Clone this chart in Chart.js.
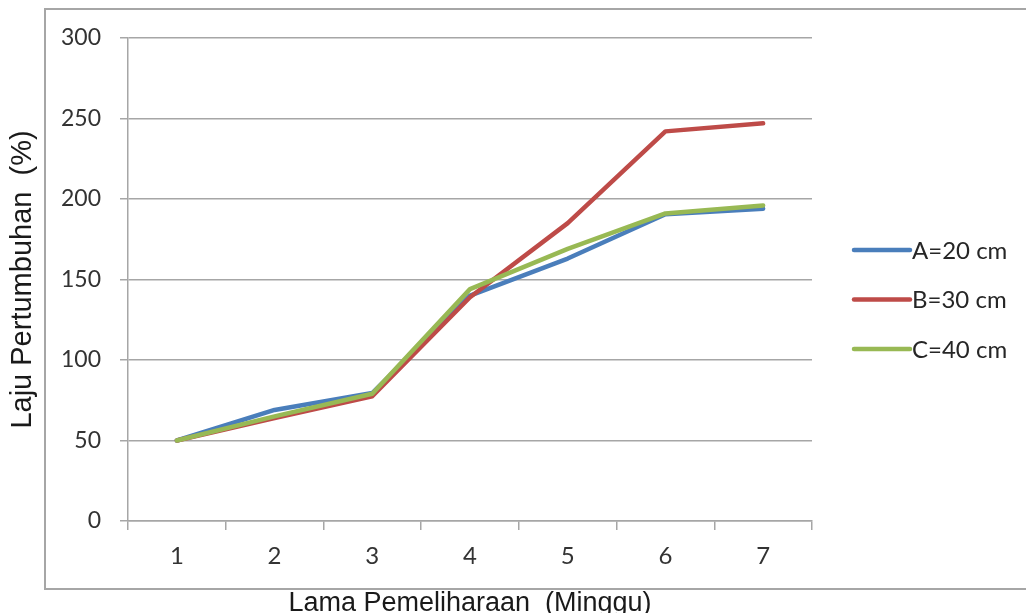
<!DOCTYPE html>
<html>
<head>
<meta charset="utf-8">
<title>Laju Pertumbuhan</title>
<script src="https://cdn.jsdelivr.net/npm/chart.js@4"></script>
<style>
  html, body { margin: 0; padding: 0; background: #ffffff; }
  #wrap { width: 1026px; height: 613px; position: relative; }
</style>
</head>
<body>
<div id="wrap"><canvas id="chart" width="1026" height="613"></canvas></div>
<script>
// Weeks of rearing (x categories)
const weeks = ['1', '2', '3', '4', '5', '6', '7'];

// Growth rate (%) per planting distance
const seriesA = [50, 69, 79.5, 140, 163, 190.5, 194];
const seriesB = [50, 64, 77.5, 139, 185, 242, 247];
const seriesC = [50, 65, 79, 144, 169, 191, 196];

const seriesNames = ['A=20 cm', 'B=30 cm', 'C=40 cm'];
const seriesColors = ['#4a7ebb', '#be4b48', '#98b954'];

// Y axis range and step
const yMin = 0, yMax = 300, yStep = 50;

const xTitle = 'Lama Pemeliharaan  (Minggu)';
const yTitle = 'Laju Pertumbuhan  (%)';

// Frame around the whole chart, drawn beneath everything else
const framePlugin = {
  id: 'frame',
  beforeDraw(chart) {
    const ctx = chart.ctx;
    ctx.save();
    ctx.fillStyle = '#ffffff';
    ctx.fillRect(0, 0, chart.width, chart.height);
    ctx.strokeStyle = '#a6a6a6';
    ctx.lineWidth = 2;
    ctx.strokeRect(45, 9, 1010, 580);
    ctx.restore();
  }
};

// Legend on the right: short line sample followed by the series name
const sideLegend = {
  id: 'sideLegend',
  afterDraw(chart) {
    const ctx = chart.ctx;
    ctx.save();
    ctx.font = '24px Lato, "Open Sans", sans-serif';
    ctx.textBaseline = 'middle';
    ctx.textAlign = 'left';
    chart.data.datasets.forEach((ds, i) => {
      const y = 250 + i * 49.5;
      ctx.strokeStyle = ds.borderColor;
      ctx.lineWidth = 4.5;
      ctx.lineCap = 'round';
      ctx.beginPath();
      ctx.moveTo(854, y);
      ctx.lineTo(910, y);
      ctx.stroke();
      ctx.fillStyle = '#262626';
      ctx.fillText(ds.label, 912, y + 1);
    });
    ctx.restore();
  }
};

const seriesData = [seriesA, seriesB, seriesC];

new Chart(document.getElementById('chart'), {
  type: 'line',
  data: {
    labels: weeks,
    datasets: seriesData.map((vals, i) => ({
      label: seriesNames[i],
      data: vals,
      borderColor: seriesColors[i],
      backgroundColor: seriesColors[i],
      borderWidth: 4.5,
      pointRadius: 0,
      tension: 0,
      borderCapStyle: 'round',
      borderJoinStyle: 'round',
      order: 3 - i
    }))
  },
  options: {
    responsive: false,
    animation: false,
    devicePixelRatio: 1,
    layout: { padding: { top: 38, right: 214, left: 0, bottom: 0 } },
    plugins: {
      legend: { display: false },
      tooltip: { enabled: false }
    },
    scales: {
      x: {
        type: 'category',
        offset: true,
        grid: {
          offset: true,
          drawOnChartArea: false,
          drawTicks: true,
          tickLength: 9,
          color: '#a6a6a6',
          lineWidth: 1.5
        },
        border: { display: true, color: '#a6a6a6', width: 1.5 },
        ticks: {
          color: '#333333',
          padding: 12,
          font: { family: 'Lato, "Open Sans", sans-serif', size: 24 }
        },
        title: {
          display: true,
          text: xTitle,
          color: '#1a1a1a',
          font: { family: '"Liberation Sans", Arial, sans-serif', size: 27 },
          padding: { top: 0, bottom: -7 }
        },
        afterFit(scale) { scale.height = 92; }
      },
      y: {
        min: yMin,
        max: yMax,
        ticks: {
          stepSize: yStep,
          color: '#333333',
          padding: 19,
          font: { family: 'Lato, "Open Sans", sans-serif', size: 23 }
        },
        grid: {
          color: '#a6a6a6',
          lineWidth: 1.5,
          tickLength: 8,
          drawTicks: true
        },
        border: { display: true, color: '#a6a6a6', width: 1.5 },
        title: {
          display: true,
          text: yTitle,
          color: '#1a1a1a',
          font: { family: '"Liberation Sans", Arial, sans-serif', size: 29 },
          padding: { top: 6, bottom: 0 }
        },
        afterFit(scale) { scale.width = 128; }
      }
    }
  },
  plugins: [framePlugin, sideLegend]
});
</script>
</body>
</html>
